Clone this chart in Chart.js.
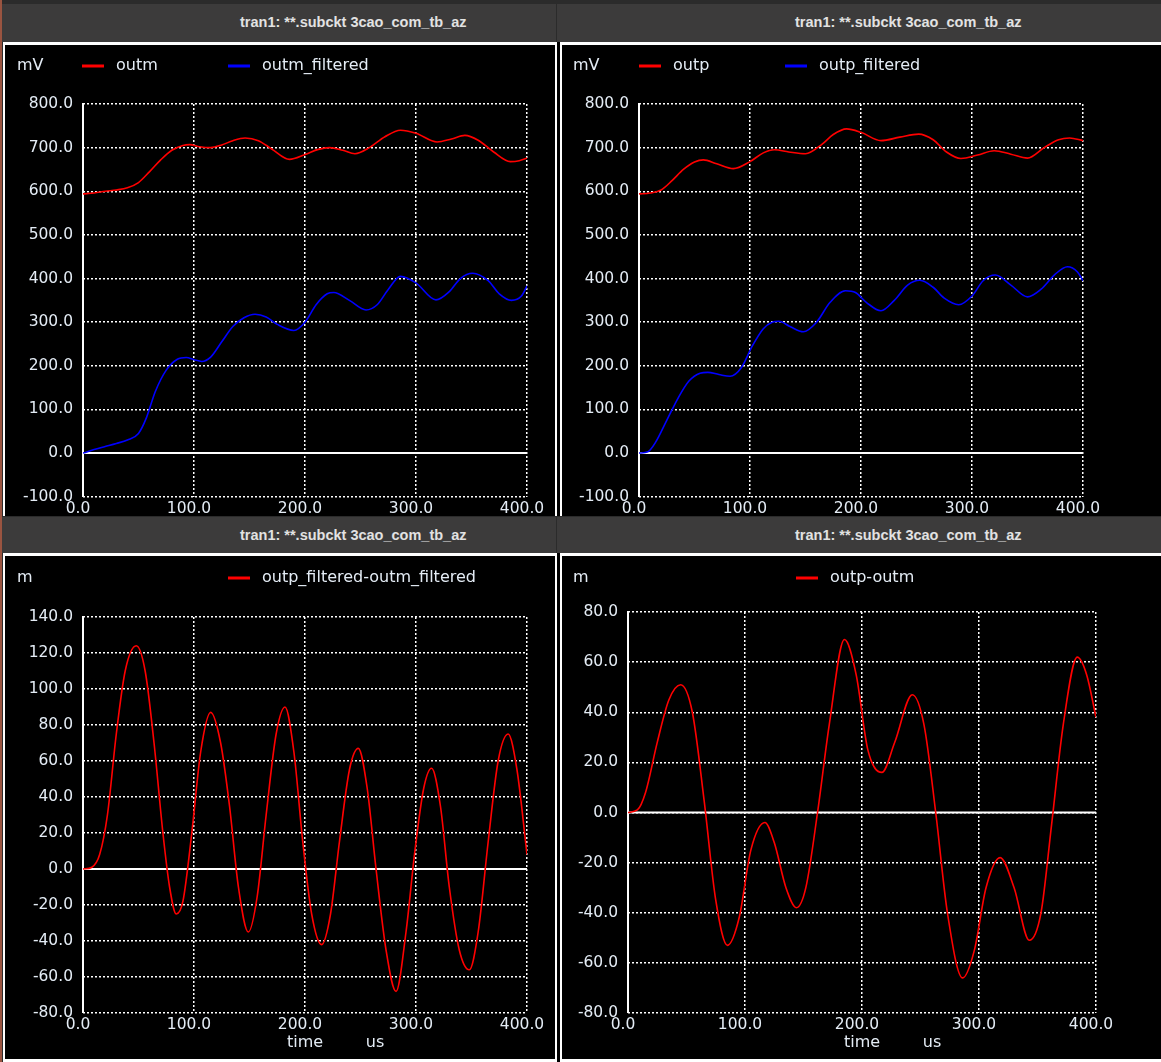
<!DOCTYPE html>
<html>
<head>
<meta charset="utf-8">
<script src="https://cdn.jsdelivr.net/npm/chart.js@4.4.1/dist/chart.umd.min.js"></script>
<style>
  html, body { margin: 0; padding: 0; }
  body { width: 1161px; height: 1062px; background: #2b2b2b; position: relative; overflow: hidden; }
  .strip { position: absolute; left: 0; top: 0; width: 2px; height: 1062px; background: #9a5440; }
  .bar { position: absolute; background: #3c3b3b; }
  .bar span { position: absolute; color: #e2e2e2; font: bold 14.5px "Liberation Sans", sans-serif; white-space: nowrap; }
  .frame { position: absolute; background: #ffffff; }
  .gap { position: absolute; background: #000; }
  canvas { position: absolute; background: #000; }
</style>
</head>
<body>
<div class="strip"></div>

<div class="bar" style="left:2px;top:4px;width:554px;height:38px"><span style="left:238px;top:10px">tran1: **.subckt 3cao_com_tb_az</span></div>
<div class="bar" style="left:557px;top:4px;width:604px;height:38px"><span style="left:238px;top:10px">tran1: **.subckt 3cao_com_tb_az</span></div>
<div class="bar" style="left:2px;top:517px;width:554px;height:36px"><span style="left:238px;top:10px">tran1: **.subckt 3cao_com_tb_az</span></div>
<div class="bar" style="left:557px;top:517px;width:604px;height:36px"><span style="left:238px;top:10px">tran1: **.subckt 3cao_com_tb_az</span></div>

<div class="frame" style="left:3px;top:42px;width:554px;height:474px"></div>
<div class="gap" style="left:557px;top:42px;width:3px;height:474px"></div>
<div class="frame" style="left:560px;top:42px;width:601px;height:474px"></div>
<div class="frame" style="left:3px;top:553px;width:554px;height:509px"></div>
<div class="gap" style="left:557px;top:553px;width:3px;height:509px"></div>
<div class="frame" style="left:560px;top:553px;width:601px;height:509px"></div>

<canvas id="tl" width="550" height="471" style="left:5px;top:45px"></canvas>
<canvas id="tr" width="599" height="471" style="left:562px;top:45px"></canvas>
<canvas id="bl" width="550" height="503" style="left:5px;top:556px"></canvas>
<canvas id="br" width="599" height="503" style="left:562px;top:556px"></canvas>

<script>
const timeTicks = [0, 100, 200, 300, 400];

const outmT = [0, 10, 20, 30, 40, 50, 60, 70, 80, 90, 96, 105, 115, 125, 135, 146, 158, 170, 186, 200, 212, 222, 234, 245, 258, 272, 286, 300, 319, 332, 344, 356, 370, 385, 393, 400];
const outmV = [594, 596, 600, 603, 608, 620, 645, 672, 694, 705, 707, 702, 700, 706, 716, 722, 716, 697, 673, 684, 696, 700, 694, 686, 700, 725, 740, 733, 713, 720, 728, 717, 690, 668, 670, 676];

const outmFiltT = [0, 10, 20, 30, 40, 50, 57, 65, 75, 85, 93, 100, 107, 115, 125, 135, 145, 155, 165, 175, 190, 200, 210, 220, 226, 240, 255, 265, 275, 286, 300, 318, 330, 340, 351, 365, 375, 386, 395, 400];
const outmFiltV = [0, 8, 15, 22, 30, 45, 80, 140, 190, 215, 219, 214, 210, 220, 255, 290, 310, 318, 312, 295, 281, 300, 340, 365, 368, 350, 328, 340, 375, 405, 390, 351, 370, 400, 412, 395, 365, 350, 360, 383];

const outpT = [0, 10, 20, 30, 40, 50, 58, 70, 85, 100, 112, 122, 135, 150, 165, 175, 187, 200, 218, 235, 252, 265, 277, 290, 305, 320, 335, 350, 365, 378, 388, 400];
const outpV = [594, 596, 603, 625, 650, 667, 672, 663, 652, 668, 688, 695, 690, 686, 708, 730, 743, 735, 716, 724, 731, 718, 690, 675, 683, 693, 685, 676, 700, 718, 722, 716];

const outpFiltT = [0, 8, 15, 25, 35, 45, 55, 62, 72, 82, 92, 102, 112, 120, 126, 136, 148, 160, 172, 186, 195, 205, 218, 230, 242, 253, 265, 275, 288, 300, 310, 321, 335, 350, 362, 375, 386, 395, 400];
const outpFiltV = [0, 3, 25, 75, 125, 165, 183, 185, 180, 176, 195, 245, 285, 300, 302, 290, 278, 300, 345, 372, 368, 345, 326, 350, 385, 396, 380, 355, 340, 360, 395, 408, 385, 358, 375, 410, 427, 415, 395];

const diffFiltT = [0, 8, 15, 22, 30, 38, 48, 56, 64, 72, 78, 84, 90, 98, 106, 115, 124, 132, 140, 149, 157, 165, 174, 182, 190, 198, 206, 215, 223, 231, 240, 248, 256, 264, 273, 282, 291, 299, 307, 314, 322, 330, 339, 348, 356, 365, 374, 383, 391, 400];
const diffFiltV = [0, 1, 8, 30, 75, 110, 124, 110, 70, 20, -10, -25, -18, 20, 65, 87, 70, 35, -10, -35, -15, 30, 75, 90, 65, 15, -25, -42, -25, 15, 55, 67, 45, 0, -45, -68, -35, 10, 45, 56, 35, -10, -45, -56, -35, 15, 60, 75, 55, 8];

const diffT = [0, 8, 15, 25, 35, 45, 55, 65, 75, 85, 95, 105, 117, 125, 135, 144, 152, 162, 172, 185, 195, 205, 217, 228, 243, 253, 263, 273, 286, 296, 306, 318, 330, 343, 353, 362, 372, 384, 392, 400];
const diffV = [0, 1, 8, 28, 45, 51, 40, 5, -35, -53, -42, -15, -4, -12, -30, -38, -30, 0, 35, 69, 55, 25, 16, 28, 47, 35, 0, -40, -66, -55, -30, -18, -30, -51, -40, -5, 35, 62, 55, 38];

const TEXT = '#e4ecf5';
const FONT = 'DejaVu Sans, sans-serif';

function pts(ts, vs) {
  return ts.map((t, i) => ({ x: t, y: vs[i] }));
}

// axe y plein, ligne du zéro, légende façon ngspice
const spicePlugin = {
  id: 'spice',
  beforeDatasetsDraw(chart) {
    const { ctx, chartArea: a, scales } = chart;
    const y0 = scales.y.getPixelForValue(0);
    ctx.save();
    ctx.strokeStyle = '#ffffff';
    ctx.lineWidth = 2;
    ctx.beginPath();
    ctx.moveTo(a.left, a.top - 1);
    ctx.lineTo(a.left, a.bottom);
    ctx.moveTo(a.left, y0);
    ctx.lineTo(a.right, y0);
    ctx.stroke();
    ctx.restore();
  },
  afterDraw(chart) {
    const o = chart.options.plugins.spice;
    const { ctx, chartArea: a } = chart;
    ctx.save();
    ctx.font = '16px ' + FONT;
    ctx.fillStyle = TEXT;
    ctx.textBaseline = 'middle';
    ctx.fillText(o.unit, o.unitX, o.legendY);
    chart.data.datasets.forEach((ds, i) => {
      const lx = o.lineX[i];
      ctx.strokeStyle = ds.borderColor;
      ctx.lineWidth = 3;
      ctx.beginPath();
      ctx.moveTo(lx, o.legendY);
      ctx.lineTo(lx + 22, o.legendY);
      ctx.stroke();
      ctx.fillText(ds.label, lx + 34, o.legendY);
    });
    if (o.timeLabel) {
      const cx = (a.left + a.right) / 2;
      ctx.textAlign = 'center';
      ctx.fillText('time', cx, a.bottom + 30);
      ctx.fillText('us', cx + 70, a.bottom + 30);
    }
    ctx.restore();
  }
};

function makePanel(id, datasets, yMin, yMax, yStep, layout, spice) {
  return new Chart(document.getElementById(id), {
    type: 'line',
    data: { datasets },
    options: {
      responsive: false,
      animation: false,
      layout: { padding: { top: layout.top, right: layout.right, left: 0, bottom: 0 } },
      elements: {
        point: { radius: 0 },
        line: { borderWidth: 1.6, cubicInterpolationMode: 'monotone' }
      },
      plugins: {
        legend: { display: false },
        tooltip: { enabled: false },
        spice
      },
      scales: {
        x: {
          type: 'linear',
          min: 0,
          max: 400,
          afterBuildTicks: (s) => { s.ticks = timeTicks.map(v => ({ value: v })); },
          afterFit: (s) => { s.height = layout.xHeight; },
          ticks: {
            color: TEXT,
            font: { family: FONT, size: 15.5 },
            padding: 3,
            labelOffset: -5,
            maxRotation: 0,
            autoSkip: false,
            callback: (v) => Number(v).toFixed(1)
          },
          grid: { color: '#ffffff', lineWidth: 1.5, drawTicks: false },
          border: { display: false, dash: [2, 2] }
        },
        y: {
          min: yMin,
          max: yMax,
          afterFit: (s) => { s.width = layout.yWidth; },
          ticks: {
            stepSize: yStep,
            color: TEXT,
            font: { family: FONT, size: 15.5 },
            padding: 10,
            autoSkip: false,
            callback: (v) => Number(v).toFixed(1)
          },
          grid: { color: '#ffffff', lineWidth: 1.5, drawTicks: false },
          border: { display: false, dash: [2, 2] }
        }
      }
    },
    plugins: [spicePlugin]
  });
}

makePanel('tl', [
  { label: 'outm', data: pts(outmT, outmV), borderColor: '#ff0000' },
  { label: 'outm_filtered', data: pts(outmFiltT, outmFiltV), borderColor: '#0000ff' }
], -100, 800, 100,
  { top: 59, right: 28, yWidth: 78, xHeight: 17 },
  { unit: 'mV', unitX: 12, legendY: 21, lineX: [77, 223] });

makePanel('tr', [
  { label: 'outp', data: pts(outpT, outpV), borderColor: '#ff0000' },
  { label: 'outp_filtered', data: pts(outpFiltT, outpFiltV), borderColor: '#0000ff' }
], -100, 800, 100,
  { top: 59, right: 78, yWidth: 77, xHeight: 17 },
  { unit: 'mV', unitX: 11, legendY: 21, lineX: [77, 223] });

makePanel('bl', [
  { label: 'outp_filtered-outm_filtered', data: pts(diffFiltT, diffFiltV), borderColor: '#ff0000' }
], -80, 140, 20,
  { top: 61, right: 28, yWidth: 78, xHeight: 46 },
  { unit: 'm', unitX: 12, legendY: 22, lineX: [223], timeLabel: true });

makePanel('br', [
  { label: 'outp-outm', data: pts(diffT, diffV), borderColor: '#ff0000' }
], -80, 80, 20,
  { top: 56, right: 65, yWidth: 66, xHeight: 46 },
  { unit: 'm', unitX: 11, legendY: 22, lineX: [234], timeLabel: true });
</script>
</body>
</html>
